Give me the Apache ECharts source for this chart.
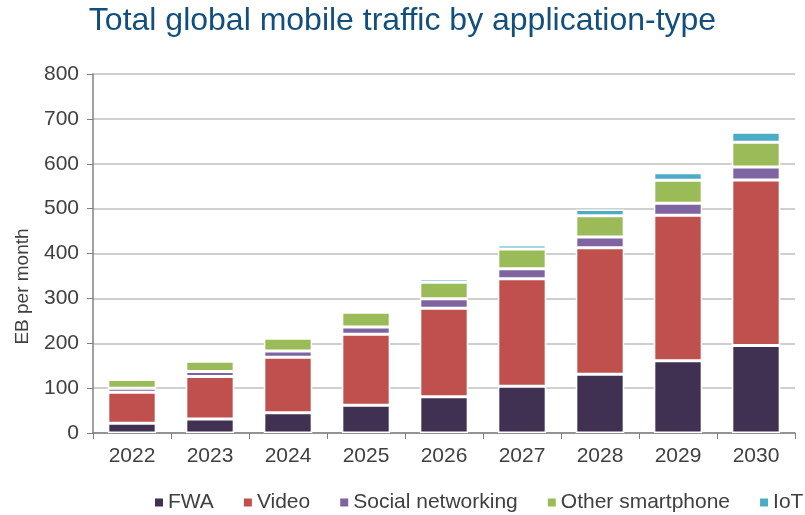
<!DOCTYPE html>
<html>
<head>
<meta charset="utf-8">
<script src="https://cdn.jsdelivr.net/npm/echarts@6/dist/echarts.min.js"></script>
<style>
  html, body { margin: 0; padding: 0; background: #fff; }
  #chart { width: 805px; height: 515px; }
</style>
</head>
<body>
<div id="chart"></div>
<script>
  // data, EB per month
  var years = ['2022', '2023', '2024', '2025', '2026', '2027', '2028', '2029', '2030'];
  var fwa = [22, 31, 45, 62, 81, 104, 131, 161, 195];
  var video = [69, 95, 124, 158, 197, 240, 282, 324, 369];
  var social = [9, 11, 14, 16, 21, 22, 24, 27, 29];
  var otherSmartphone = [19, 23, 28, 33, 37, 44, 47, 51, 55];
  var iot = [1, 1, 2, 5, 8, 9, 14, 17, 22];
  var yTicks = [0, 100, 200, 300, 400, 500, 600, 700, 800];

  var txt = '#404040';
  var font = 'Liberation Sans, Arial, sans-serif';

  function stackSeries(name, data, color) {
    return {
      name: name,
      type: 'bar',
      stack: 'total',
      barWidth: '62%',
      data: data,
      itemStyle: { color: color, borderColor: '#fff', borderWidth: 1.5 }
    };
  }

  var chart = echarts.init(document.getElementById('chart'));
  chart.setOption({
    animation: false,
    textStyle: { fontFamily: font },
    title: {
      text: 'Total global mobile traffic by application-type',
      left: 'center',
      top: 0,
      textStyle: { color: '#134F7E', fontSize: 32, fontWeight: 'normal', fontFamily: font }
    },
    legend: {
      top: 487,
      left: 148,
      width: 900,
      icon: 'rect',
      itemWidth: 10,
      itemHeight: 10,
      itemGap: 28,
      textStyle: { color: txt, fontSize: 21, padding: [0, 0, 0, -1] }
    },
    grid: { left: 93, right: 10, top: 74, bottom: 82 },
    xAxis: {
      type: 'category',
      data: years,
      axisLine: { lineStyle: { color: '#808080', width: 1.5 } },
      axisTick: { show: true, length: 6, lineStyle: { color: '#808080' } },
      axisLabel: { color: txt, fontSize: 21, margin: 13 }
    },
    yAxis: {
      type: 'value',
      min: yTicks[0],
      max: yTicks[yTicks.length - 1],
      interval: 100,
      name: 'EB per month',
      nameLocation: 'middle',
      nameGap: 61,
      nameTextStyle: { color: txt, fontSize: 19, padding: [0, 66, 0, 0] },
      axisLine: { show: true, lineStyle: { color: '#808080', width: 1.5 } },
      axisTick: { show: true, length: 6, lineStyle: { color: '#808080' } },
      axisLabel: { color: txt, fontSize: 21, margin: 14 },
      splitLine: { lineStyle: { color: '#BFBFBF', width: 1.5 } }
    },
    series: [
      stackSeries('FWA', fwa, '#403152'),
      stackSeries('Video', video, '#C0504D'),
      stackSeries('Social networking', social, '#8064A2'),
      stackSeries('Other smartphone', otherSmartphone, '#9BBB59'),
      stackSeries('IoT', iot, '#4BACC6')
    ]
  });
</script>
</body>
</html>
